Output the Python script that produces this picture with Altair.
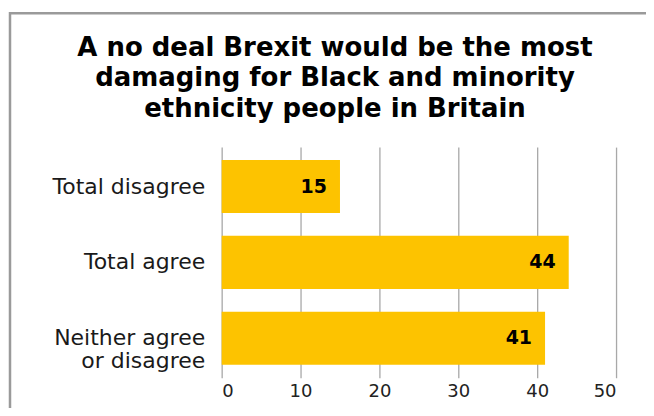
import altair as alt
import pandas as pd

categories = ["Total disagree", "Total agree", "Neither agree or disagree"]
values = [15, 44, 41]
title_lines = ["A no deal Brexit would be the most",
               "damaging for Black and minority",
               "ethnicity people in Britain"]
x_ticks = [0, 10, 20, 30, 40, 50]

df = pd.DataFrame({"category": categories, "value": values})

base = alt.Chart(df)

frame = base.mark_rect(fill=None, stroke="#9a9a9a", strokeWidth=2.5).encode(
    x=alt.value(-212), y=alt.value(-134), x2=alt.value(600), y2=alt.value(400)
).transform_filter("datum.category == 'Total disagree'")

y_enc = alt.Y("category:N", sort=categories, title=None,
              scale=alt.Scale(paddingInner=0.3, paddingOuter=0.17),
              axis=alt.Axis(labelFont="DejaVu Sans", labelFontSize=22, labelColor="#1a1a1a",
                            labelPadding=17, ticks=False, domain=False, grid=False,
                            labelLineHeight=23, labelLimit=300,
                            labelExpr="datum.label == 'Neither agree or disagree' ? ['Neither agree', 'or disagree'] : datum.label"))
x_enc = alt.X("value:Q", title=None,
              scale=alt.Scale(domain=[0, 50], nice=False),
              axis=alt.Axis(values=x_ticks, labelFont="DejaVu Sans", labelFontSize=18,
                            labelColor="#222", labelPadding=5, ticks=False, domain=False,
                            grid=True, gridColor="#a8a8a8", gridWidth=1.3))

bars = base.mark_bar(color="#FDC300").encode(x=x_enc, y=y_enc)
labels = base.mark_text(align="right", baseline="middle", dx=-13, font="DejaVu Sans",
                        fontWeight="bold", fontSize=19, color="#000").encode(
    x="value:Q", y=alt.Y("category:N", sort=categories), text="value:Q")

chart = alt.layer(frame, bars, labels).properties(
    width=395, height=231,
    autosize=alt.AutoSizeParams(type="none"),
    padding={"left": 214, "top": 139, "right": 30, "bottom": 30},
    title=alt.TitleParams(text=title_lines, font="DejaVu Sans", fontWeight="bold",
                          fontSize=26, lineHeight=30.5, anchor="middle",
                          dx=-84, offset=-110, color="#000"),
).configure_view(stroke=None)

chart.save("out.html", embed_options={"renderer": "svg", "actions": False})
